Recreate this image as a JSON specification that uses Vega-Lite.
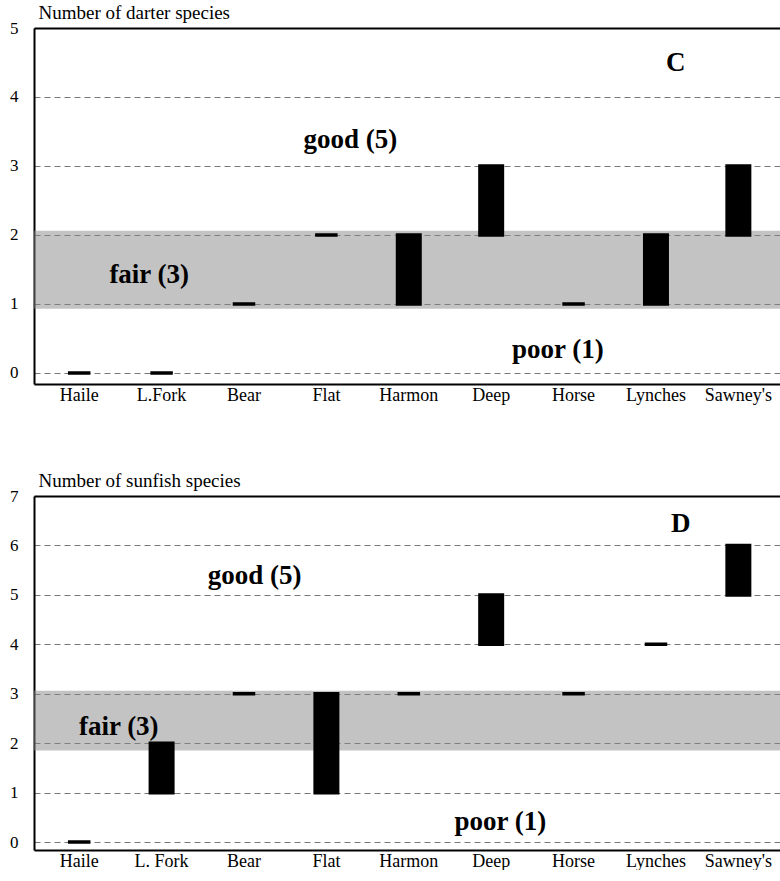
{
  "$schema": "https://vega.github.io/schema/vega-lite/v6.json",
  "padding": {"left": 9, "top": 3, "right": 0, "bottom": 0},
  "spacing": 67,
  "background": "white",
  "config": {
    "font": "Liberation Serif",
    "view": {"stroke": null},
    "axis": {"labelFont": "Liberation Serif", "titleFont": "Liberation Serif", "labelColor": "black", "titleColor": "black"}
  },
  "datasets": {
    "darter": [
      {"site": "Haile", "lo": 0, "hi": 0},
      {"site": "L.Fork", "lo": 0, "hi": 0},
      {"site": "Bear", "lo": 1, "hi": 1},
      {"site": "Flat", "lo": 2, "hi": 2},
      {"site": "Harmon", "lo": 1, "hi": 2},
      {"site": "Deep", "lo": 2, "hi": 3},
      {"site": "Horse", "lo": 1, "hi": 1},
      {"site": "Lynches", "lo": 1, "hi": 2},
      {"site": "Sawney's", "lo": 2, "hi": 3}
    ],
    "sunfish": [
      {"site": "Haile", "lo": 0, "hi": 0},
      {"site": "L. Fork", "lo": 1, "hi": 2},
      {"site": "Bear", "lo": 3, "hi": 3},
      {"site": "Flat", "lo": 1, "hi": 3},
      {"site": "Harmon", "lo": 3, "hi": 3},
      {"site": "Deep", "lo": 4, "hi": 5},
      {"site": "Horse", "lo": 3, "hi": 3},
      {"site": "Lynches", "lo": 4, "hi": 4},
      {"site": "Sawney's", "lo": 5, "hi": 6}
    ],
    "darterBand": [{"lo": 0.93, "hi": 2.06}],
    "sunfishBand": [{"lo": 1.85, "hi": 3.06}],
    "darterText": [
      {"t": "good (5)", "xi": 3.29, "y": 3.38},
      {"t": "fair (3)", "xi": 0.85, "y": 1.42},
      {"t": "poor (1)", "xi": 5.81, "y": 0.33},
      {"t": "C", "xi": 7.24, "y": 4.49}
    ],
    "sunfishText": [
      {"t": "good (5)", "xi": 2.13, "y": 5.38},
      {"t": "fair (3)", "xi": 0.48, "y": 2.33},
      {"t": "poor (1)", "xi": 5.11, "y": 0.40},
      {"t": "D", "xi": 7.30, "y": 6.44}
    ]
  },
  "vconcat": [
    {
      "width": 746,
      "height": 356,
      "layer": [
        {
          "data": {"name": "darterBand"},
          "mark": {"type": "rect", "fill": "#888888", "fillOpacity": 0.5},
          "encoding": {
            "y": {"field": "lo", "type": "quantitative", "title": "Number of darter species", "scale": {"domain": [-0.16, 5], "nice": false, "zero": false},
              "axis": {"values": [0, 1, 2, 3, 4, 5], "format": "d", "ticks": false, "tickSize": 0, "labelPadding": 16, "labelFontSize": 17, "domainColor": "black", "domainWidth": 2, "grid": true, "gridDash": [6, 4], "gridColor": "#555555", "gridWidth": 1, "gridOpacity": 0.8, "titleAngle": 0, "titleAlign": "left", "titleBaseline": "alphabetic", "titleX": 4, "titleY": -10, "titleFontSize": 19, "titleFontWeight": "normal"}},
            "y2": {"field": "hi"}
          }
        },
        {
          "data": {"name": "darter"},
          "mark": {"type": "bar", "color": "black", "stroke": "black", "strokeWidth": 3.5, "size": 22.5},
          "encoding": {
            "x": {"field": "site", "type": "nominal", "sort": null, "title": null, "scale": {"paddingInner": 0, "paddingOuter": 0.027, "align": 0.9},
              "axis": {"labelAngle": 0, "ticks": false, "tickSize": 0, "labelPadding": 2, "labelFontSize": 18, "domainColor": "black", "domainWidth": 2, "grid": false}},
            "y": {"field": "lo", "type": "quantitative", "title": "Number of darter species"},
            "y2": {"field": "hi"}
          }
        },
        {
          "data": {"name": "darterText"},
          "mark": {"type": "text", "fontWeight": "bold", "fontSize": 27, "align": "center", "baseline": "middle", "color": "black"},
          "encoding": {
            "x": {"field": "xi", "type": "quantitative", "scale": {"domain": [-0.5485, 8.5049], "nice": false, "zero": false},
              "axis": {"orient": "top", "labels": false, "ticks": false, "grid": false, "title": null, "domain": true, "domainColor": "black", "domainWidth": 2}},
            "y": {"field": "y", "type": "quantitative", "title": "Number of darter species"},
            "text": {"field": "t"}
          }
        }
      ],
      "resolve": {"scale": {"x": "independent"}, "axis": {"x": "independent"}}
    },
    {
      "width": 746,
      "height": 354,
      "layer": [
        {
          "data": {"name": "sunfishBand"},
          "mark": {"type": "rect", "fill": "#888888", "fillOpacity": 0.5},
          "encoding": {
            "y": {"field": "lo", "type": "quantitative", "title": "Number of sunfish species", "scale": {"domain": [-0.16, 7], "nice": false, "zero": false},
              "axis": {"values": [0, 1, 2, 3, 4, 5, 6, 7], "format": "d", "ticks": false, "tickSize": 0, "labelPadding": 16, "labelFontSize": 17, "domainColor": "black", "domainWidth": 2, "grid": true, "gridDash": [6, 4], "gridColor": "#555555", "gridWidth": 1, "gridOpacity": 0.8, "titleAngle": 0, "titleAlign": "left", "titleBaseline": "alphabetic", "titleX": 4, "titleY": -10, "titleFontSize": 19, "titleFontWeight": "normal"}},
            "y2": {"field": "hi"}
          }
        },
        {
          "data": {"name": "sunfish"},
          "mark": {"type": "bar", "color": "black", "stroke": "black", "strokeWidth": 3.5, "size": 22.5},
          "encoding": {
            "x": {"field": "site", "type": "nominal", "sort": null, "title": null, "scale": {"paddingInner": 0, "paddingOuter": 0.027, "align": 0.9},
              "axis": {"labelAngle": 0, "ticks": false, "tickSize": 0, "labelPadding": 2, "labelFontSize": 18, "domainColor": "black", "domainWidth": 2, "grid": false}},
            "y": {"field": "lo", "type": "quantitative", "title": "Number of sunfish species"},
            "y2": {"field": "hi"}
          }
        },
        {
          "data": {"name": "sunfishText"},
          "mark": {"type": "text", "fontWeight": "bold", "fontSize": 27, "align": "center", "baseline": "middle", "color": "black"},
          "encoding": {
            "x": {"field": "xi", "type": "quantitative", "scale": {"domain": [-0.5485, 8.5049], "nice": false, "zero": false},
              "axis": {"orient": "top", "labels": false, "ticks": false, "grid": false, "title": null, "domain": true, "domainColor": "black", "domainWidth": 2}},
            "y": {"field": "y", "type": "quantitative", "title": "Number of sunfish species"},
            "text": {"field": "t"}
          }
        }
      ],
      "resolve": {"scale": {"x": "independent"}, "axis": {"x": "independent"}}
    }
  ]
}
